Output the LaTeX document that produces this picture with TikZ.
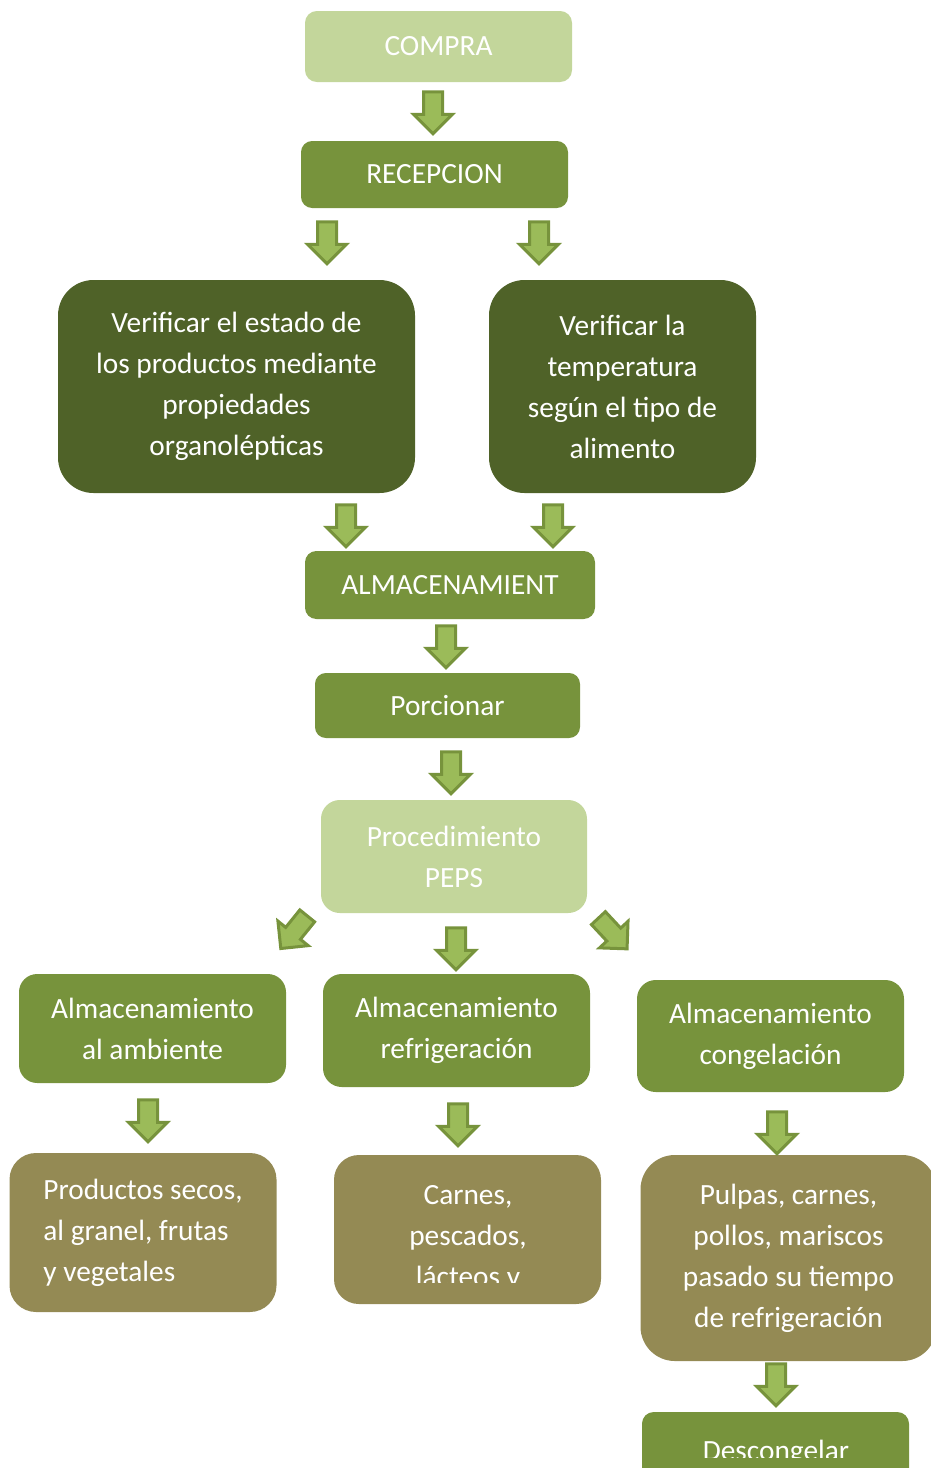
\documentclass[tikz,border=0pt]{standalone}
\usepackage{fontspec}
\setmainfont{Carlito}
\usetikzlibrary{shapes.arrows}
\definecolor{lightgreen}{HTML}{C3D69B}
\definecolor{midgreen}{HTML}{77933C}
\definecolor{darkgreen}{HTML}{4F6228}
\definecolor{olivebox}{HTML}{948A54}
\definecolor{arrowfill}{HTML}{9BBB59}
\begin{document}
\begin{tikzpicture}[x=0.75pt, y=-0.75pt,
    boxtext/.style={text=white, align=center, font=\fontsize{22}{30.75}\selectfont},
    flowbox/.style 2 args={boxtext, minimum width=#1*0.75pt, minimum height=#2*0.75pt,
      rounded corners=#2*0.125pt, inner sep=0pt},
    flowarrow/.style={single arrow, draw=midgreen, fill=arrowfill, line width=2.25pt,
      minimum height=31.5pt, minimum width=27pt, single arrow head extend=7.5pt,
      inner xsep=0pt, inner ysep=6pt}]
  \useasboundingbox (0,0) rectangle (931,1468);
  % boxes
  \node[flowbox={267}{71}, fill=lightgreen] (compra) at (438.5,46.5) {COMPRA};
  \node[flowbox={267}{67}, fill=midgreen] (recepcion) at (434.5,174.5) {RECEPCION};
  \node[flowbox={357}{213}, fill=darkgreen] (estado) at (236.5,386.5)
    {Verificar el estado de\\los productos mediante\\propiedades\\organolépticas};
  \node[flowbox={267}{213}, fill=darkgreen] (temperatura) at (622.5,386.5)
    {Verificar la\\temperatura\\según el tipo de\\alimento};
  \node[flowbox={290}{68}, fill=midgreen] (almacen) at (450,585) {ALMACENAMIENT};
  \node[flowbox={265}{65}, fill=midgreen] (porcionar) at (447.5,705.5) {Porcionar};
  \node[flowbox={266}{113}, fill=lightgreen] (peps) at (454,856.5) {Procedimiento\\PEPS};
  \node[flowbox={267}{109}, fill=midgreen] (ambiente) at (152.5,1028.5)
    {Almacenamiento\\al ambiente};
  \node[flowbox={267}{113}, fill=midgreen] (refrig) at (456.5,1030.5)
    {Almacenamiento\\refrigeración};
  \node[flowbox={267}{112}, fill=midgreen] (congel) at (770.5,1036)
    {Almacenamiento\\congelación};
  \node[flowbox={267}{159}, fill=olivebox, align=left] (secos) at (143,1232.5)
    {Productos secos,\\al granel, frutas\\y vegetales};
  \node[flowbox={267}{149}, fill=olivebox] (carnes) at (467.5,1229.5) {};
  \node[flowbox={296}{206}, fill=olivebox] (pulpas) at (788.5,1258)
    {Pulpas, carnes,\\pollos, mariscos\\pasado su tiempo\\de refrigeración};
  \node[flowbox={267}{70}, fill=midgreen] (descong) at (775.5,1447) {};
  % clipped texts
  \begin{scope}
    \clip (334,1160) rectangle (601,1282);
    \node[boxtext] (carnestxt) at (468,1238) {Carnes,\\pescados,\\lácteos y};
  \end{scope}
  \begin{scope}
    \clip (642,1412) rectangle (909,1457.5);
    \node[boxtext, anchor=base] (descongtxt) at (776,1460) {Descongelar};
  \end{scope}
  % arrows
  \node[flowarrow, rotate=-90] (a1) at (433,108) {};
  \node[flowarrow, rotate=-90] (a2) at (327,238) {};
  \node[flowarrow, rotate=-90] (a3) at (539,238) {};
  \node[flowarrow, rotate=-90] (a4) at (346,521) {};
  \node[flowarrow, rotate=-90] (a5) at (553,521) {};
  \node[flowarrow, rotate=-90] (a6) at (446,642) {};
  \node[flowarrow, rotate=-90] (a7) at (451,768) {};
  \node[flowarrow, rotate=-129] (a8) at (297,928.5) {};
  \node[flowarrow, rotate=-90] (a9) at (456,944) {};
  \node[flowarrow, rotate=-47] (a10) at (609.5,930) {};
  \node[flowarrow, rotate=-90] (a11) at (148,1116) {};
  \node[flowarrow, rotate=-90] (a12) at (458,1120) {};
  \node[flowarrow, rotate=-90] (a13) at (777,1128) {};
  \node[flowarrow, rotate=-90] (a14) at (776,1380) {};
\end{tikzpicture}
\end{document}
